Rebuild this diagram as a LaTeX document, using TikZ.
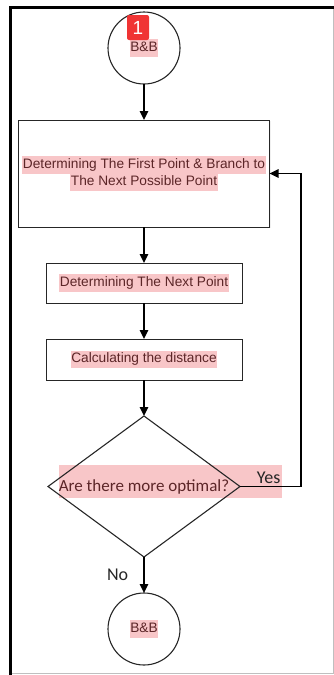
\documentclass[tikz,border=0pt]{standalone}
\usepackage{fontspec}
\setmainfont{Liberation Sans}
\newfontfamily\calfont{Carlito}
\usetikzlibrary{arrows.meta, positioning, shapes.geometric, shadows}
\definecolor{hlpink}{RGB}{248,198,200}
\definecolor{hltext}{RGB}{92,38,40}
\definecolor{badgered}{RGB}{240,52,52}
\newcommand{\hl}[1]{{\setlength{\fboxsep}{0.5pt}\colorbox{hlpink}{\strut #1}}}

\begin{document}
\begin{tikzpicture}
	[x=1pt, y=-1pt, ->, >={Triangle[length=9pt,width=8.5pt]}, line width=1.6pt,
	term node/.style={circle, draw=black!85, line width=1.1pt, outer sep=0pt, minimum size=72pt, inner sep=0pt, text=hltext, font=\fontsize{13.7}{16.4}\selectfont},
	proc node/.style={rectangle, draw=black!85, fill=white, line width=0.9pt, outer sep=0pt, inner sep=0pt, align=center, text=hltext, font=\fontsize{13.7}{16.4}\selectfont, drop shadow={opacity=0.12, shadow xshift=1.2pt, shadow yshift=-1.2pt}},
	dec node/.style={diamond, draw=black!85, line width=1.1pt, outer sep=0pt, inner sep=0pt, aspect=1.36, minimum width=192pt, minimum height=141pt, text=hltext, font=\calfont\fontsize{17}{20}\selectfont}]
	\useasboundingbox (0,0) rectangle (334,675);
	% frame
	\draw[-, line width=0.8pt, black!25] (333,9) -- (333,673) -- (12,673);
	\draw[-, line width=3pt] (334,7.5) -- (10.5,7.5) -- (10.5,675);
	% steps
	\node (start) [term node] at (144,48) {\hl{B\&B}};
	\node (badge) [fill=badgered, rounded corners=2pt, minimum width=22pt, minimum height=25pt, inner sep=0pt, text=white, font=\fontsize{19}{19}\selectfont] at (138,27.5) {1};
	\node (first) [proc node, minimum width=251pt, minimum height=107pt, below = 36pt of start] {\hl{Determining The First Point \& Branch to}\\[-1pt]\hl{The Next Possible Point}};
	\node (next) [proc node, minimum width=196pt, minimum height=40pt, below = 36pt of first] {\hl{Determining The Next Point}};
	\node (calc) [proc node, minimum width=196pt, minimum height=41pt, below = 36pt of next] {\hl{Calculating the distance}};
	\node (hlq) [fill=hlpink, minimum width=223pt, minimum height=33pt, inner sep=0pt] at (170.5,481.5) {};
	\node (dec) [dec node, below = 36pt of calc] {Are there more optimal?};
	\node (stop) [term node, below = 36pt of dec] {\hl{B\&B}};
	\coordinate (turn) at ([xshift=61pt]dec.east);
	\path[every node/.style={font=\calfont\fontsize{18}{20}\selectfont, text=black!85, inner sep=0pt}]
	(start) edge (first)
	(first) edge (next)
	(next) edge (calc)
	(calc) edge (dec)
	(dec) edge node [left = 15pt] {No} (stop);
	\draw (dec.east) -- node [pos=0.47, above = 2pt, font=\calfont\fontsize{18}{20}\selectfont, text=black!85, inner sep=0pt] {Yes} (turn) |- (first.east);
\end{tikzpicture}
\end{document}
